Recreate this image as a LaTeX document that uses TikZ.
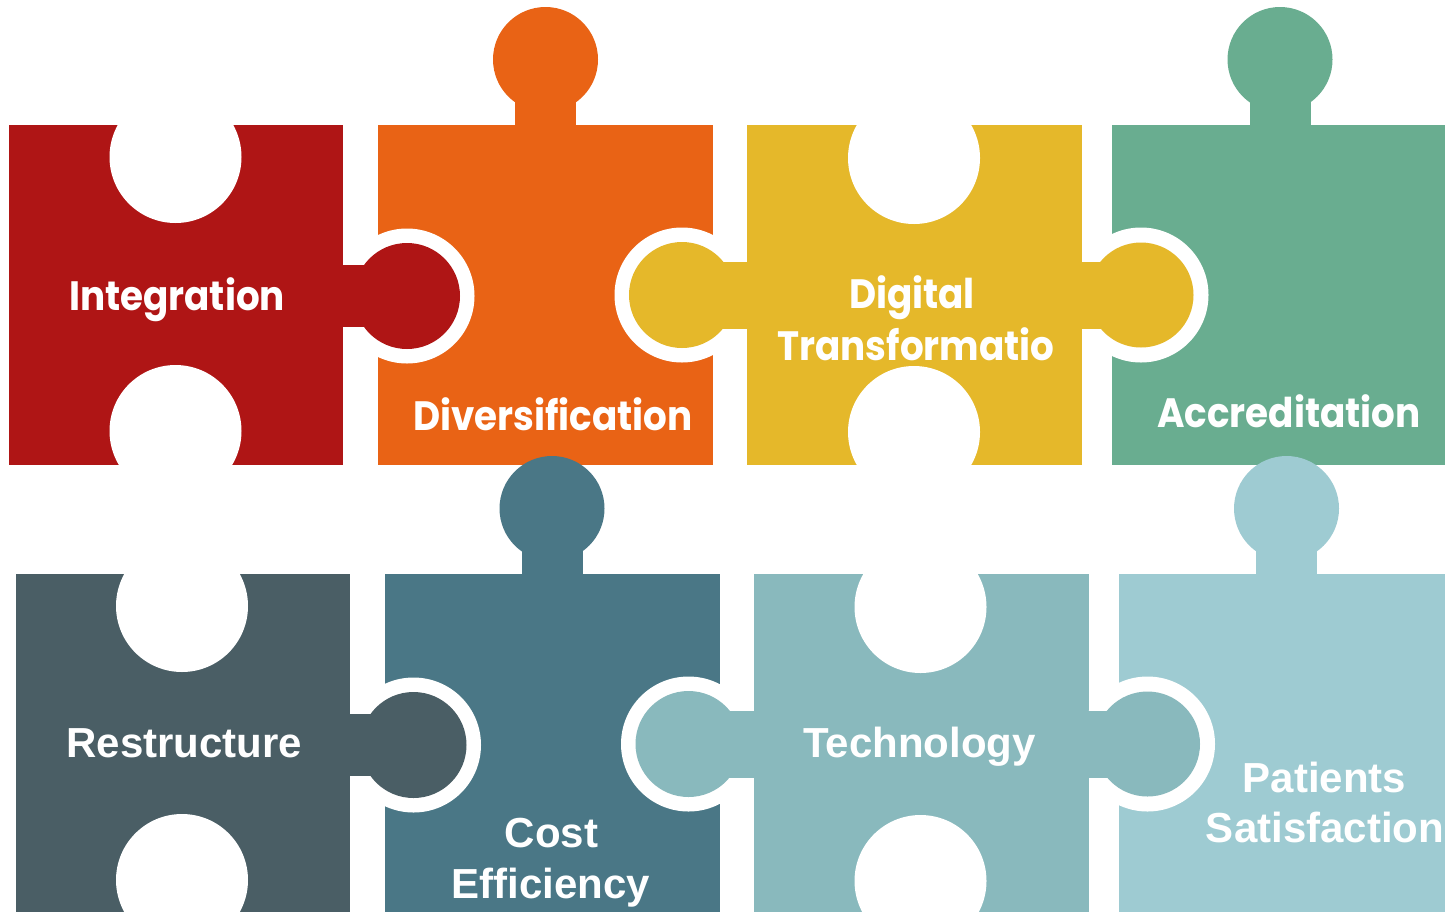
\documentclass[tikz,border=0pt]{standalone}
\usepackage{fontspec}
\newfontfamily\geofont{Poppins}[FakeStretch=0.91]
\newfontfamily\arifont{Liberation Sans}
\definecolor{pzred}{RGB}{175,21,21}
\definecolor{pzorange}{RGB}{233,99,21}
\definecolor{pzyellow}{RGB}{229,184,42}
\definecolor{pzgreen}{RGB}{105,173,144}
\definecolor{pzslate}{RGB}{74,94,101}
\definecolor{pzblue}{RGB}{74,119,134}
\definecolor{pzteal}{RGB}{137,185,189}
\definecolor{pzlight}{RGB}{158,203,210}
\newcommand{\PuzzRow}[4]{%
  % pieces
  \fill[#1] (9,125) rectangle (343,465);
  \fill[#2] (378,125) rectangle (713,465);
  \fill[#2] (515,90) rectangle (576,126);
  \fill[#2] (545.5,59.5) circle (52.5pt);
  \fill[#3] (747,125) rectangle (1082,465);
  \fill[#4] (1112,125) rectangle (1470,465);
  \fill[#4] (1249.5,90) rectangle (1310.5,126);
  \fill[#4] (1280,59.5) circle (52.5pt);
  % holes
  \fill[white] (175.5,157) circle (66pt);
  \fill[white] (175.5,431) circle (66pt);
  \fill[white] (914,158) circle (66pt);
  \fill[white] (914,432) circle (66pt);
  % side knobs with white rings
  \fill[white] (407,296) circle (67.5pt);
  \fill[#1] (320,265) rectangle (390,327);
  \fill[#1] (407,296) circle (53pt);
  \fill[white] (682,295) circle (67.5pt);
  \fill[#3] (700,262) rectangle (770,329);
  \fill[#3] (682,295) circle (53pt);
  \fill[white] (1141,295) circle (67.5pt);
  \fill[#3] (1060,262) rectangle (1120,329);
  \fill[#3] (1141,295) circle (52.5pt);
}
\begin{document}
\begin{tikzpicture}[x=1pt,y=-1pt,
  geotext/.style={text=white,anchor=base,inner sep=0pt,
    font=\geofont\bfseries\fontsize{41}{50}\selectfont},
  aritext/.style={text=white,anchor=base,inner sep=0pt,
    font=\arifont\bfseries\fontsize{42}{50}\selectfont}]
\useasboundingbox (0,0) rectangle (1445,911);
\clip (0,0) rectangle (1445,911);
\fill[white] (0,0) rectangle (1445,911);
\PuzzRow{pzred}{pzorange}{pzyellow}{pzgreen}
\begin{scope}[shift={(6.5,449)}]
\PuzzRow{pzslate}{pzblue}{pzteal}{pzlight}
\end{scope}
% row 1 labels
\node[geotext] (integ) at (177,310) {Integration};
\node[geotext] (divers) at (553,430) {Diversification};
\node[geotext] (digA) at (912,308) {Digital};
\node[geotext] (digB) at (916,360) {Transformatio};
\node[geotext] (accr) at (1289,427) {Accreditation};
% row 2 labels
\node[aritext] (restr) at (184.5,757) {Restructure};
\node[aritext] (costA) at (551.5,847) {Cost};
\node[aritext] (costB) at (551,898) {Efficiency};
\node[aritext] (tech) at (919.5,757) {Technology};
\node[aritext] (patA) at (1324.5,792) {Patients};
\node[aritext] (patB) at (1325,842) {Satisfaction};
\end{tikzpicture}
\end{document}
